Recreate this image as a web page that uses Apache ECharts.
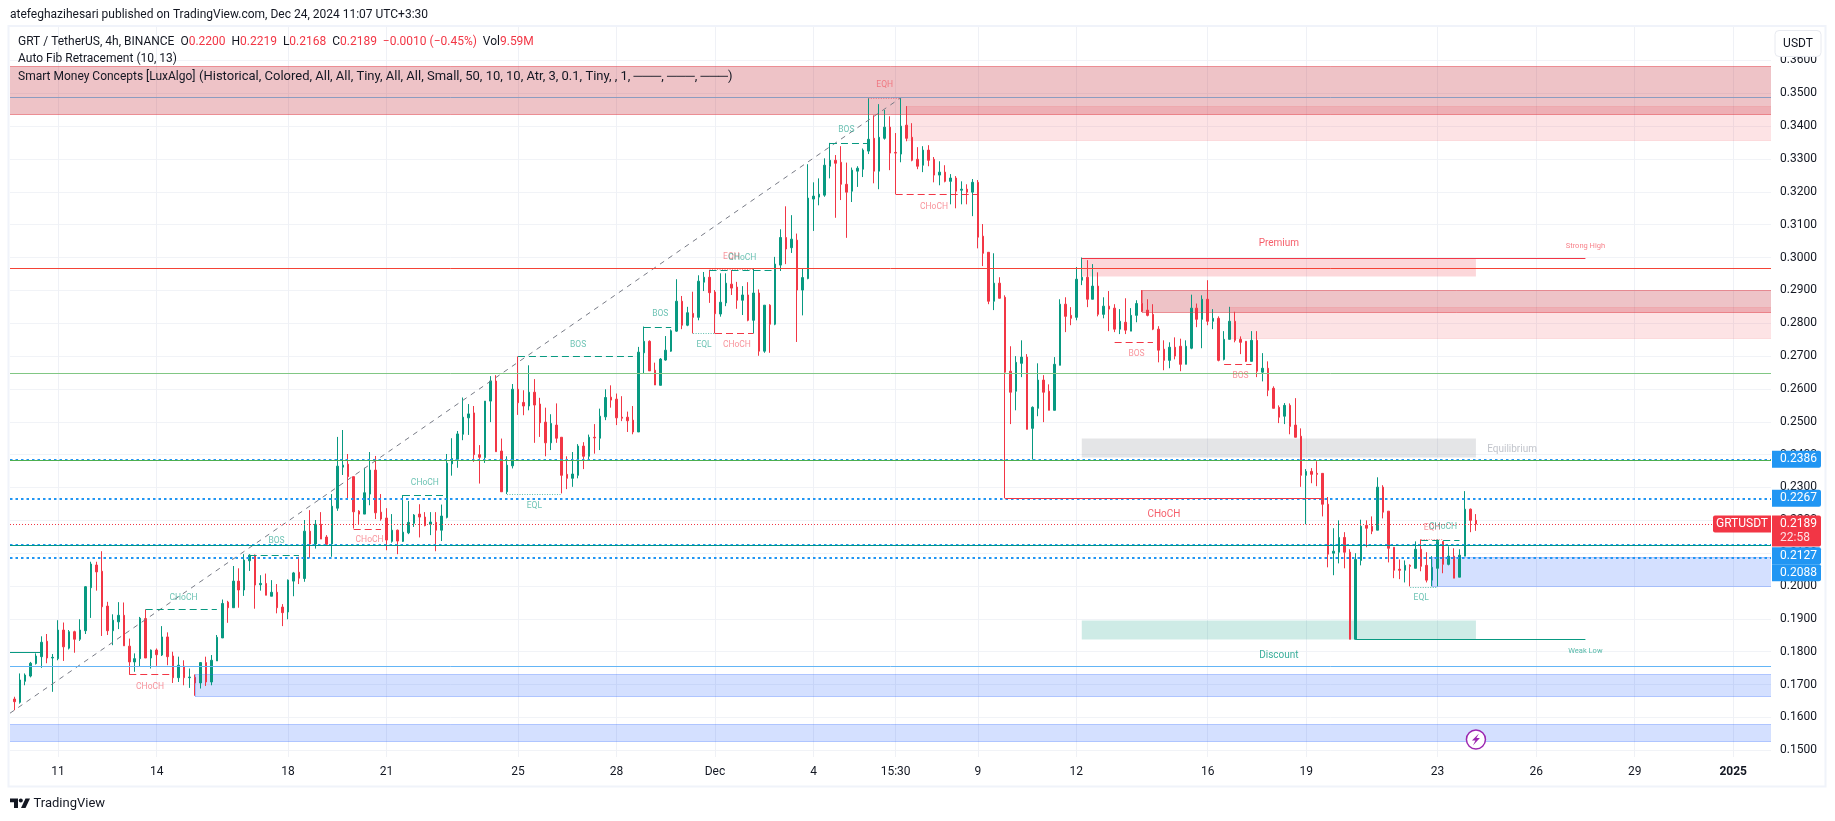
<!DOCTYPE html>
<html>
<head>
<meta charset="utf-8">
<style>html,body{margin:0;padding:0;background:#fff}#c{width:1835px;height:821px}</style>
<script src="https://cdn.jsdelivr.net/npm/echarts@6/dist/echarts.min.js"></script>
</head>
<body>
<div id="c"></div>
<script>
const opens = [
.1656,.1646,.1710,.1726,.1764,.1785,.1832,.1781,.1779,.1866,
.1811,.1861,.1838,.1864,.1995,.2064,.2045,.1939,.1864,.1891,
.1911,.1817,.1769,.1779,.1901,.1781,.1805,.1790,.1845,.1787,
.1721,.1756,.1721,.1722,.1705,.1767,.1708,.1772,.1842,.1951,
.1934,.2015,.1988,.2077,.2094,.2004,.2008,.1969,.1981,.1936,
.1921,.2015,.2042,.2023,.2167,.2128,.2188,.2149,.2128,.2237,
.2362,.2371,.2333,.2228,.2219,.2280,.2353,.2225,.2207,.2136,
.2170,.2136,.2162,.2191,.2219,.2210,.2188,.2194,.2170,.2209,
.2372,.2386,.2462,.2512,.2527,.2400,.2391,.2563,.2624,.2411,
.2287,.2366,.2599,.2559,.2548,.2590,.2554,.2499,.2436,.2490,
.2453,.2340,.2328,.2337,.2426,.2395,.2453,.2450,.2515,.2575,
.2569,.2514,.2514,.2505,.2469,.2710,.2745,.2657,.2611,.2688,
.2715,.2776,.2867,.2794,.2830,.2818,.2925,.2940,.2895,.2828,
.2862,.2919,.2910,.2870,.2886,.2809,.2892,.2715,.2855,.2797,
.2977,.3061,.3030,.3053,.2901,.2936,.3178,.3184,.3190,.3278,
.3296,.3290,.3223,.3202,.3263,.3269,.3324,.3363,.3263,.3363,
.3397,.3320,.3315,.3403,.3366,.3299,.3281,.3327,.3299,.3251,
.3260,.3232,.3242,.3205,.3208,.3199,.3229,.3065,.3016,.2867,
.2922,.2879,.2654,.2593,.2678,.2697,.2480,.2541,.2627,.2593,
.2535,.2672,.2858,.2824,.2818,.2931,.2940,.2873,.2913,.2827,
.2852,.2846,.2782,.2803,.2776,.2824,.2860,.2840,.2827,.2782,
.2721,.2687,.2727,.2730,.2675,.2724,.2846,.2812,.2873,.2806,
.2815,.2690,.2751,.2806,.2751,.2745,.2684,.2748,.2651,.2663,
.2602,.2544,.2517,.2550,.2490,.2456,.2337,.2349,.2343,.2343,
.2249,.2100,.2103,.2148,.2103,.1838,.2078,.2185,.2182,.2170,
.2301,.2228,.2118,.2051,.2048,.2063,.2054,.2112,.2063,.2018,
.2054,.2136,.2066,.2091,.2027,.2091,.2234,.2200];
const closes = [
.1648,.1714,.1729,.1765,.1787,.1829,.1781,.1783,.1866,.1815,
.1861,.1838,.1866,.1998,.2067,.2043,.1937,.1864,.1896,.1911,
.1818,.1769,.1779,.1902,.1781,.1805,.1791,.1845,.1785,.1721,
.1759,.1721,.1723,.1705,.1767,.1708,.1774,.1844,.1947,.1934,
.2015,.1988,.2079,.2094,.2003,.2008,.1972,.1981,.1934,.1919,
.2018,.2040,.2024,.2167,.2128,.2188,.2143,.2127,.2243,.2365,
.2368,.2333,.2226,.2219,.2284,.2353,.2223,.2204,.2140,.2170,
.2137,.2164,.2194,.2216,.2210,.2184,.2195,.2170,.2213,.2374,
.2388,.2463,.2514,.2524,.2400,.2392,.2563,.2624,.2409,.2287,
.2368,.2599,.2558,.2548,.2590,.2551,.2497,.2436,.2495,.2450,
.2337,.2328,.2341,.2426,.2395,.2453,.2451,.2517,.2574,.2566,
.2512,.2511,.2503,.2469,.2712,.2745,.2655,.2612,.2691,.2718,
.2777,.2867,.2794,.2832,.2818,.2928,.2940,.2893,.2829,.2864,
.2922,.2907,.2870,.2886,.2809,.2892,.2715,.2855,.2797,.2980,
.3061,.3026,.3056,.2901,.2939,.3181,.3187,.3193,.3281,.3296,
.3287,.3223,.3199,.3266,.3272,.3327,.3360,.3263,.3366,.3397,
.3318,.3318,.3400,.3363,.3296,.3278,.3327,.3296,.3251,.3260,
.3232,.3242,.3202,.3208,.3199,.3229,.3062,.3013,.2867,.2922,
.2876,.2651,.2590,.2681,.2697,.2477,.2544,.2627,.2590,.2535,
.2675,.2858,.2821,.2815,.2934,.2940,.2873,.2913,.2827,.2852,
.2843,.2782,.2806,.2779,.2824,.2860,.2837,.2824,.2782,.2718,
.2687,.2727,.2700,.2675,.2730,.2846,.2812,.2873,.2806,.2815,
.2687,.2751,.2806,.2748,.2742,.2684,.2748,.2654,.2663,.2596,
.2541,.2514,.2550,.2486,.2453,.2337,.2349,.2340,.2340,.2249,
.2097,.2106,.2148,.2103,.1838,.2081,.2182,.2176,.2167,.2301,
.2225,.2115,.2048,.2048,.2063,.2060,.2112,.2060,.2018,.2057,
.2136,.2066,.2091,.2024,.2094,.2234,.2200,.2189];
const highs = [
.1663,.1734,.1734,.1769,.1795,.1847,.1854,.1793,.1896,.1889,
.1866,.1864,.1899,.2000,.2074,.2074,.2106,.1952,.1914,.1951,
.1950,.1840,.1795,.1906,.1929,.1807,.1810,.1878,.1859,.1800,
.1785,.1774,.1749,.1731,.1768,.1785,.1790,.1851,.1959,.1955,
.2061,.2054,.2097,.2097,.2096,.2033,.2038,.2018,.2006,.1945,
.2020,.2043,.2089,.2201,.2231,.2201,.2225,.2155,.2280,.2454,
.2475,.2402,.2333,.2231,.2360,.2408,.2396,.2280,.2237,.2219,
.2172,.2277,.2259,.2219,.2249,.2225,.2225,.2225,.2248,.2402,
.2450,.2472,.2574,.2554,.2548,.2429,.2563,.2639,.2642,.2449,
.2395,.2615,.2699,.2596,.2672,.2630,.2573,.2543,.2523,.2556,
.2453,.2395,.2408,.2432,.2438,.2461,.2493,.2540,.2599,.2611,
.2586,.2578,.2531,.2548,.2728,.2790,.2748,.2680,.2694,.2761,
.2781,.2934,.2883,.2850,.2896,.2946,.2956,.2962,.2901,.2952,
.2952,.2962,.2926,.2913,.2925,.2967,.2903,.2855,.2858,.3002,
.3086,.3156,.3129,.3073,.2967,.3284,.3229,.3241,.3302,.3349,
.3312,.3339,.3289,.3274,.3278,.3332,.3485,.3433,.3467,.3449,
.3430,.3379,.3487,.3461,.3409,.3336,.3339,.3342,.3306,.3293,
.3281,.3254,.3248,.3232,.3223,.3239,.3236,.3102,.3016,.3013,
.2940,.2885,.2730,.2700,.2748,.2706,.2547,.2678,.2642,.2614,
.2697,.2873,.2879,.2849,.2971,.3000,.2992,.2980,.2955,.2879,
.2898,.2858,.2843,.2876,.2846,.2870,.2901,.2873,.2858,.2791,
.2748,.2742,.2757,.2753,.2748,.2887,.2860,.2885,.2931,.2843,
.2821,.2776,.2850,.2835,.2760,.2745,.2776,.2776,.2709,.2684,
.2608,.2550,.2557,.2556,.2572,.2480,.2356,.2359,.2380,.2343,
.2271,.2176,.2200,.2164,.2112,.2100,.2202,.2200,.2212,.2331,
.2307,.2228,.2118,.2081,.2078,.2066,.2136,.2142,.2103,.2091,
.2142,.2136,.2121,.2115,.2112,.2289,.2236,.2219];
const lows = [
.1622,.1642,.1698,.1722,.1761,.1751,.1765,.1678,.1774,.1772,
.1807,.1797,.1833,.1854,.1903,.1986,.1848,.1851,.1820,.1869,
.1818,.1731,.1739,.1756,.1781,.1749,.1757,.1787,.1759,.1705,
.1708,.1698,.1690,.1666,.1688,.1696,.1698,.1772,.1842,.1888,
.1934,.1934,.1970,.2046,.1931,.1986,.1972,.1969,.1917,.1878,
.1899,.1969,.2006,.2013,.2086,.2114,.2143,.2122,.2089,.2229,
.2338,.2264,.2175,.2188,.2219,.2246,.2204,.2199,.2109,.2132,
.2097,.2134,.2158,.2180,.2148,.2182,.2155,.2106,.2137,.2206,
.2336,.2360,.2444,.2460,.2378,.2312,.2375,.2499,.2409,.2287,
.2280,.2358,.2521,.2520,.2535,.2436,.2454,.2395,.2414,.2436,
.2282,.2295,.2302,.2328,.2356,.2381,.2403,.2414,.2505,.2543,
.2490,.2502,.2469,.2462,.2469,.2647,.2655,.2612,.2611,.2686,
.2713,.2774,.2782,.2791,.2769,.2809,.2898,.2862,.2769,.2820,
.2852,.2886,.2844,.2825,.2806,.2769,.2701,.2710,.2710,.2794,
.2959,.2980,.3014,.2743,.2824,.2934,.3081,.3159,.3185,.3241,
.3121,.3175,.3060,.3169,.3215,.3245,.3315,.3226,.3208,.3359,
.3266,.3193,.3290,.3354,.3293,.3269,.3260,.3278,.3229,.3220,
.3229,.3162,.3150,.3162,.3162,.3126,.3028,.2974,.2858,.2840,
.2876,.2267,.2493,.2535,.2636,.2477,.2385,.2517,.2499,.2535,
.2535,.2672,.2773,.2794,.2809,.2916,.2849,.2873,.2821,.2815,
.2776,.2773,.2767,.2767,.2776,.2803,.2834,.2821,.2779,.2681,
.2657,.2663,.2690,.2654,.2675,.2721,.2788,.2724,.2794,.2782,
.2684,.2687,.2751,.2742,.2706,.2682,.2684,.2636,.2623,.2578,
.2541,.2496,.2493,.2462,.2453,.2302,.2188,.2313,.2304,.2212,
.2057,.2033,.2069,.2054,.1838,.1838,.2063,.2118,.2158,.2170,
.2206,.2072,.2024,.2021,.2011,.1999,.2054,.2045,.2011,.1999,
.1999,.2039,.2063,.2024,.2027,.2091,.2164,.2168];

const timeTickBars = [8,26,50,68,92,110,128,146,161,176,194,218,236,260,278,296,314];
const timeTickLabels = ['11','14','18','21','25','28','Dec','4','15:30','9','12','16','19','23','26','29','2025'];
const priceTicks = [.15,.16,.17,.18,.19,.20,.21,.22,.23,.24,.25,.26,.27,.28,.29,.30,.31,.32,.33,.34,.35,.36];

// x range in bars, price range
const barMin = -0.7855, barMax = 320.9, priceMin = 0.14796, priceMax = 0.37018;

// [fromBar, toBar, top, bottom, kind]  (null = chart edge)
const zones = [
 [null,null,.3582,.3436,'darkRed'],
 [163,null,.3460,.3357,'lightRed'],
 [195,267,.3000,.2945,'midRed'],
 [206,null,.2900,.2835,'darkRed'],
 [222,null,.2849,.2756,'lightRed'],
 [195,267,.2451,.2394,'grey'],
 [195,267,.1897,.1839,'teal'],
 [33,null,.1731,.1666,'blue'],
 [259,null,.2089,.2001,'blue'],
 [null,null,.1579,.1527,'blue']
];
const levels = [
 [null,null,.3488,'fibTop'],
 [null,null,.2967,'fibRed'],
 [null,null,.2648,'fibGreen'],
 [null,null,.2387,'alert'],
 [null,null,.2384,'fibGreen2'],
 [null,null,.2267,'alert'],
 [null,null,.2127,'alert'],
 [null,null,.2125,'fibTeal'],
 [null,null,.2088,'alert'],
 [null,null,.1756,'fibBlue'],
 [null,null,.2189,'last'],
 [null,5,.1798,'solidGreen'],
 [195,287,.3000,'solidRed'],
 [181,239,.2267,'solidRed2'],
 [245,287,.1838,'solidGreen']
];
// [fromBar, toBar, price, style]
const structureLines = [
 [24,37,.1929,'dashGreen'],[21,29,.1731,'dashRed'],[43,52,.2096,'dashGreen'],
 [62,67,.2175,'dashRed'],[71,79,.2276,'dashGreen'],[90,100,.2280,'dotGreen'],
 [92,113,.2699,'dashGreen'],[115,120,.2790,'dashGreen'],[124,128,.2769,'dotGreen'],
 [128,135,.2769,'dashRed'],[127,139,.2961,'dashGreen'],[127,135,.2964,'dotRed'],
 [149,156,.3349,'dashGreen'],[156,162,.3485,'dotRed'],[161,176,.3192,'dashRed'],
 [201,208,.2743,'dashRed'],[221,226,.2677,'dashRed'],[255,260,.1997,'dotGreen'],
 [257,264,.2140,'dashGreen'],[257,261,.2143,'dotRed']
];
const fibDiagonal = [[-0.78,.1613],[162,.3487]];
// [bar, price, text, style]
const structureLabels = [
 [30.9,.1965,'CHoCH','g'],[24.8,.1693,'CHoCH','r'],[47.9,.2136,'BOS','g'],
 [64.9,.2142,'CHoCH','r'],[75,.2315,'CHoCH','g'],[95,.2244,'EQL','g'],
 [103,.2735,'BOS','g'],[118,.2829,'BOS','g'],[126,.2734,'EQL','g'],
 [132,.2734,'CHoCH','r'],[131,.3002,'EQH','r'],[133,.3000,'CHoCH','g'],
 [152,.3389,'BOS','g'],[159,.3526,'EQH','r'],[168,.3154,'CHoCH','r'],
 [205,.2707,'BOS','r'],[224,.2640,'BOS','r'],[257,.1964,'EQL','g'],
 [259,.2178,'EQH','r'],[261,.2180,'CHoCH','g'],
 [210,.2219,'CHoCH','R'],[231,.3043,'Premium','R'],[231,.1789,'Discount','G'],
 [273.6,.2415,'Equilibrium','E'],[287,.3036,'Strong High','s'],[287,.1801,'Weak Low','w']
];
// [price, text, extra px shift where TradingView pushes colliding tags apart]
const blueTags = [[.2386,'0.2386',0],[.2267,'0.2267',0],[.2127,'0.2127',11.5],[.2088,'0.2088',15.5]];
const lastPrice = .2189, lastSymbol = 'GRTUSDT', lastCountdown = '22:58';
const publishedLine = 'atefeghazihesari published on TradingView.com, Dec 24, 2024 11:07 UTC+3:30';
const studyLines = ['Auto Fib Retracement (10, 13)','Smart Money Concepts [LuxAlgo]','(Historical, Colored, All, All, Tiny, All, All, Small, 50, 10, 10, Atr, 3, 0.1, Tiny, , 1, ───, ───, ───)'];

const FONT = 'Roboto, sans-serif';
const GREEN = '#089981', RED = '#f23645';
const zoneStyles = {
 darkRed:{color:'rgba(192,35,48,.27)',edge:'rgba(224,60,70,.5)'},
 lightRed:{color:'rgba(242,54,69,.14)',edge:'rgba(242,54,69,.12)'},
 midRed:{color:'rgba(242,54,69,.2)'},
 grey:{color:'rgba(120,123,134,.2)'},
 teal:{color:'rgba(8,153,129,.2)'},
 blue:{color:'rgba(41,98,255,.2)',edge:'rgba(41,98,255,.3)'}
};
const lineStyles = {
 fibTop:{color:'#8c9cc0',width:1,type:'solid'},
 fibRed:{color:'#f44336',width:1,type:'solid'},
 fibGreen:{color:'#81c784',width:1,type:'solid'},
 fibGreen2:{color:'#4caf50',width:1,type:'solid'},
 fibTeal:{color:'#009688',width:1,type:'solid'},
 fibBlue:{color:'#64b5f6',width:1,type:'solid'},
 alert:{color:'#2196f3',width:2,type:[2.5,3]},
 last:{color:RED,width:1,type:[1,2]},
 solidGreen:{color:GREEN,width:1,type:'solid'},
 solidRed:{color:RED,width:1,type:'solid'},
 solidRed2:{color:RED,width:1,type:'solid'},
 dashGreen:{color:GREEN,width:1,type:[7,4]},
 dashRed:{color:RED,width:1,type:[7,4]},
 dotGreen:{color:'rgba(8,153,129,.65)',width:1,type:[1,1.5]},
 dotRed:{color:'rgba(242,54,69,.6)',width:1,type:[1,1.5]}
};
const labelStyles = {
 g:{color:'rgba(8,153,129,.75)',fontSize:8.5},
 r:{color:'rgba(242,54,69,.68)',fontSize:8.5},
 s:{color:'rgba(242,54,69,.8)',fontSize:7.5},
 w:{color:'rgba(8,153,129,.85)',fontSize:7.5},
 R:{color:RED,fontSize:10},
 G:{color:GREEN,fontSize:10},
 E:{color:'#b2b5be',fontSize:10}
};

const candleData = opens.map((o,i)=>[i,o,closes[i],lows[i],highs[i]]);

// keep thin horizontal rules on a pixel row so they stay crisp
const PLOT_H = 730;
const snap = p => priceMax - (Math.round((priceMax-p)/(priceMax-priceMin)*PLOT_H)+0.5)/PLOT_H*(priceMax-priceMin);

const edge = (v,fallback)=> v===null?fallback:v;
const zoneEdges = [];
zones.forEach(z=>{
 const c = zoneStyles[z[4]].edge; if(!c) return;
 const a = edge(z[0],barMin), b = edge(z[1],barMax), t = snap(z[2]), d = snap(z[3]);
 const st = {color:c,width:1,type:'solid'};
 zoneEdges.push([{coord:[a,t],lineStyle:st},{coord:[b,t]}],[{coord:[a,d],lineStyle:st},{coord:[b,d]}]);
 if(z[0]!==null) zoneEdges.push([{coord:[a,t],lineStyle:st},{coord:[a,d]}]);
});

const chart = echarts.init(document.getElementById('c'),null,{renderer:'canvas'});
chart.setOption({
 animation:false,
 backgroundColor:'#fff',
 textStyle:{fontFamily:FONT},
 grid:{left:10,right:64,top:27,bottom:64,containLabel:false},
 tooltip:{show:false},
 xAxis:{type:'value',min:barMin,max:barMax,
  axisLine:{show:false},
  axisTick:{show:false,customValues:timeTickBars},
  splitLine:{show:true,lineStyle:{color:'#eff1f6',width:1}},
  axisLabel:{customValues:timeTickBars,color:'#131722',fontSize:12,margin:9,fontFamily:FONT,
   formatter:v=>{const s=timeTickLabels[timeTickBars.indexOf(v)];return s==='2025'?'{b|2025}':s;},
   rich:{b:{fontWeight:'bold',fontSize:12,color:'#131722',fontFamily:FONT}}}},
 yAxis:{type:'value',position:'right',min:priceMin,max:priceMax,
  axisLine:{show:false},
  axisTick:{show:false,customValues:priceTicks},
  splitLine:{show:true,lineStyle:{color:'#f1f3f7',width:1}},
  axisLabel:{customValues:priceTicks,color:'#131722',fontSize:12,margin:9,fontFamily:FONT,formatter:v=>v.toFixed(4)}},
 series:[
  {type:'candlestick',name:'GRTUSDT',z:2,barWidth:2,clip:true,silent:true,
   data:candleData,
   itemStyle:{color:GREEN,color0:RED,borderColor:GREEN,borderColor0:RED,borderWidth:1},
   markArea:{silent:true,z:1,data:zones.map(z=>[
     {coord:[edge(z[0],barMin),snap(z[2])],itemStyle:{color:zoneStyles[z[4]].color,borderWidth:0}},
     {coord:[edge(z[1],barMax),snap(z[3])]}])},
   markLine:{silent:true,z:5,symbol:'none',label:{show:false},
    data:[
     ...zoneEdges,
     ...levels.map(l=>[{coord:[edge(l[0],barMin),snap(l[2])],lineStyle:lineStyles[l[3]]},{coord:[edge(l[1],barMax),snap(l[2])]}]),
     ...structureLines.map(l=>[{coord:[l[0],snap(l[2])],lineStyle:lineStyles[l[3]]},{coord:[l[1],snap(l[2])]}])
    ]}
  },
  {type:'line',name:'Fib',z:3,silent:true,symbol:'none',data:fibDiagonal,clip:true,
   lineStyle:{color:'#787b86',width:1,type:[5,5]}},
  {type:'scatter',name:'Labels',z:6,silent:true,symbol:'circle',symbolSize:1,itemStyle:{color:'transparent'},
   data:structureLabels.map(l=>({value:[l[0],l[1]],
     label:{show:true,position:'inside',formatter:l[2],fontFamily:FONT,color:labelStyles[l[3]].color,fontSize:labelStyles[l[3]].fontSize}}))}
 ]
});

const py = p=>chart.convertToPixel({yAxisIndex:0},p);
const px = b=>chart.convertToPixel({xAxisIndex:0},b);
const txt=(x,y,text,extra)=>({type:'text',z:100,silent:true,x,y,style:Object.assign({text,fontFamily:FONT,fontSize:12,fill:'#131722',verticalAlign:'middle'},extra||{})});
const lastY = py(lastPrice);
const gfx = [
 {type:'rect',z:90,silent:true,shape:{x:8.5,y:26,width:1817,height:760.5},style:{fill:'none',stroke:'#f0f3fa',lineWidth:2}},
 txt(10,15,publishedLine),
 {type:'text',z:100,silent:true,x:18,y:41.5,style:{
   text:'GRT / TetherUS, 4h, BINANCE  O{r|0.2200}  H{r|0.2219}  L{r|0.2168}  C{r|0.2189}  {r|−0.0010 (−0.45%)}  Vol{r|9.59M}',
   fontFamily:FONT,fontSize:12,fill:'#131722',verticalAlign:'middle',
   rich:{r:{fill:RED,fontFamily:FONT,fontSize:12}}}},
 txt(18,59,studyLines[0]),
 txt(18,76.5,studyLines[1]),
 txt(199,76.5,studyLines[2],{fontSize:13}),
 {type:'rect',z:100,silent:true,shape:{x:1775,y:30.5,width:46,height:26,r:4},style:{fill:'#fff',stroke:'#e8eaf0',lineWidth:1}},
 txt(1798,44,'USDT',{align:'center'}),
 // live price tags
 {type:'rect',z:100,silent:true,shape:{x:1713,y:lastY-8.5,width:58,height:17,r:[2,0,0,2]},style:{fill:RED}},
 txt(1742,lastY,lastSymbol,{fill:'#fff',align:'center'}),
 {type:'rect',z:100,silent:true,shape:{x:1772,y:lastY-8.5,width:49,height:31,r:[0,2,2,0]},style:{fill:RED}},
 txt(1780,lastY,'0.2189',{fill:'#fff'}),
 txt(1780,lastY+14,lastCountdown,{fill:'#fde0e3'})
];
blueTags.forEach(t=>{
 const y=py(t[0])+t[2];
 gfx.push({type:'rect',z:101,silent:true,shape:{x:1772,y:y-8.5,width:49,height:17,r:[0,2,2,0]},style:{fill:'#2196f3'}});
 gfx.push(Object.assign(txt(1780,y,t[1],{fill:'#fff'}),{z:102}));
});
// lightning badge under the latest bar
const bx = px(267), by = py(.1533);
gfx.push({type:'circle',z:100,silent:true,shape:{cx:bx,cy:by,r:9.5},style:{fill:'#fff',stroke:'#9c27b0',lineWidth:1.5}});
gfx.push({type:'polygon',z:101,silent:true,shape:{points:[[bx+3,by-6],[bx-4,by+1],[bx-0.5,by+1],[bx-3,by+6],[bx+4,by-1.5],[bx+0.5,by-1.5]]},style:{fill:'#9c27b0'}});
// brand mark
gfx.push({type:'polygon',z:100,silent:true,shape:{points:[[10,798.5],[18,798.5],[18,808],[14,808],[14,802.3],[10,802.3]]},style:{fill:'#131722'}});
gfx.push({type:'circle',z:100,silent:true,shape:{cx:20.8,cy:800.6,r:2},style:{fill:'#131722'}});
gfx.push({type:'polygon',z:100,silent:true,shape:{points:[[25.5,798.5],[30,798.5],[25.5,808],[21,808]]},style:{fill:'#131722'}});
gfx.push(txt(33.5,804,'TradingView',{fontSize:13}));
chart.setOption({graphic:gfx});
</script>
</body>
</html>
